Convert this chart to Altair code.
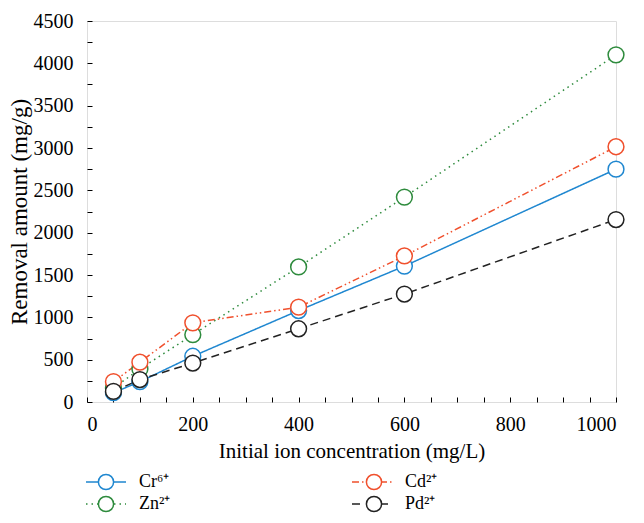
import altair as alt
import pandas as pd

conc = [50, 100, 200, 400, 600, 1000]
cr = [110, 240, 540, 1080, 1605, 2750]
zn = [165, 390, 795, 1595, 2420, 4100]
cd = [240, 470, 935, 1120, 1725, 3015]
pd_vals = [125, 265, 460, 865, 1275, 2155]

names = ["Cr⁶⁺", "Zn²⁺", "Cd²⁺", "Pd²⁺"]
values = [cr, zn, cd, pd_vals]
colors = ["#1f87d0", "#2e8b3d", "#f0502d", "#222222"]
dashes = [[1, 0], [1.5, 4], [7, 3, 1.5, 3, 1.5, 3], [8, 5]]

# second key (prefixed) so the marker legend stays separate from the line legend
names2 = ["_" + n for n in names]

rows = []
for k, (n, n2, vs) in enumerate(zip(names, names2, values)):
    for c, v in zip(conc, vs):
        rows.append({"series": n, "series2": n2, "k": k, "conc": c, "val": v})
df = pd.DataFrame(rows)

FONT = "Liberation Serif"

x = alt.X("conc:Q", title="Initial ion concentration (mg/L)",
          scale=alt.Scale(domain=[0, 1000], nice=False),
          axis=alt.Axis(values=list(range(0, 1001, 50)), format="d",
                        labelExpr="datum.value % 200 == 0 ? datum.label : ''",
                        domain=False, grid=False, offset=-5, tickSize=5,
                        tickColor="black", tickWidth=1, labelPadding=12,
                        labelFontSize=20, titleFontSize=21, titlePadding=6,
                        labelFont=FONT, titleFont=FONT, labelColor="black",
                        titleColor="black", titleFontWeight="normal"))
y = alt.Y("val:Q", title="Removal amount (mg/g)",
          scale=alt.Scale(domain=[0, 4500], nice=False),
          axis=alt.Axis(values=list(range(0, 4501, 250)), format="d",
                        labelExpr="datum.value % 500 == 0 ? datum.label : ''",
                        domain=False, grid=False, offset=-5, tickSize=5,
                        tickColor="black", tickWidth=1, labelPadding=14,
                        labelFontSize=20, titleFontSize=23, titlePadding=2,
                        labelFont=FONT, titleFont=FONT, labelColor="black",
                        titleColor="black", titleFontWeight="normal"))

seg_path = "M-1,0L-0.4,0M0.4,0L1,0"
circ_path = "M0.38,0A0.38,0.38,0,1,1,-0.38,0A0.38,0.38,0,1,1,0.38,0"

def mk_legend(sym, col_pad, label_expr=None):
    kw = dict(orient="none", legendX=-2, legendY=450, columns=2,
              title=None, symbolType=sym, symbolSize=1600,
              symbolStrokeWidth=1.5, symbolFillColor="white",
              labelFont=FONT, labelFontSize=18, labelColor="black",
              labelOffset=12, columnPadding=col_pad, rowPadding=0,
              clipHeight=22)
    if label_expr:
        kw["labelExpr"] = label_expr
    return alt.Legend(**kw)

lines = alt.Chart(df).mark_line(strokeWidth=1.5).encode(
    x=x, y=y,
    color=alt.Color("series:N", scale=alt.Scale(domain=names, range=colors),
                    legend=mk_legend(seg_path, 180)),
    strokeDash=alt.StrokeDash("series:N", scale=alt.Scale(domain=names, range=dashes),
                              legend=mk_legend(seg_path, 180)),
    order=alt.Order("conc:Q"),
)

points = alt.Chart(df).mark_point(shape="circle", filled=False, fill="white",
                                  fillOpacity=1, size=250, strokeWidth=1.5,
                                  opacity=1).encode(
    x=x, y=y,
    stroke=alt.Stroke("series2:N", scale=alt.Scale(domain=names2, range=colors),
                      legend=mk_legend(circ_path, 214, "''")),
    order=alt.Order("k:Q"),
)

chart = alt.layer(lines, points).properties(
    width=529, height=381,
    autosize=alt.AutoSizeParams(type="none"),
    padding={"left": 79, "top": 13, "right": 20, "bottom": 113},
).configure_view(stroke="black", strokeWidth=1.2).configure(background="white")

chart.save("out.html", embed_options={"renderer": "svg", "actions": False})
